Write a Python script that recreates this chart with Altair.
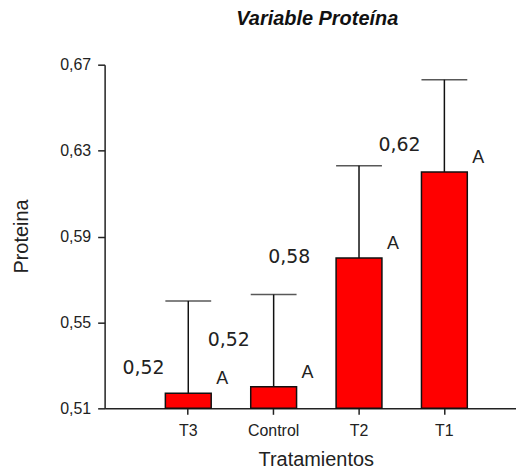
import altair as alt
import pandas as pd

treatments = ["T3", "Control", "T2", "T1"]
means = [0.517, 0.520, 0.580, 0.620]
err_top = [0.560, 0.563, 0.623, 0.663]
label_pos = [0.529, 0.5416, 0.5805, 0.6324]
letters = ["A", "A", "A", "A"]
y_ticks = [0.51, 0.55, 0.59, 0.63, 0.67]

df = pd.DataFrame({
    "trat": treatments,
    "mean": means,
    "err": err_top,
    "lpos": label_pos,
    "letter": letters,
})

fmt = "replace(format(datum.value, '.2f'), '.', ',')"

x_enc = alt.X(
    "trat:N",
    sort=treatments,
    scale=alt.Scale(paddingInner=0.463, paddingOuter=0.641, align=0.555),
    axis=alt.Axis(
        title="Tratamientos", labelAngle=0, labelFont="Liberation Sans",
        labelFontSize=16, labelColor="#222", labelPadding=8,
        tickSize=6, tickColor="#222", tickWidth=1.5,
        domainColor="#222", domainWidth=1.5,
        titleFont="Liberation Sans", titleFontSize=20, titleFontWeight="normal",
        titleColor="#222", titleX=212, titleY=51, titleBaseline="middle",
        titleAlign="center",
    ),
)

y_scale = alt.Scale(domain=[0.51, 0.67], nice=False, zero=False)

bars = alt.Chart(df).mark_bar(color="#FF0000", stroke="#111", strokeWidth=1.5).encode(
    x=x_enc,
    y=alt.Y(
        "mean:Q", scale=y_scale,
        axis=alt.Axis(
            values=y_ticks, labelExpr=fmt, grid=False, title="Proteina",
            labelFont="Liberation Sans", labelFontSize=16, labelColor="#222",
            labelPadding=7, tickSize=7, tickColor="#222", tickWidth=1.5,
            domainColor="#222", domainWidth=1.5,
            titleFont="Liberation Sans", titleFontSize=20, titleFontWeight="normal",
            titleColor="#222", titleX=-83, titleY=172, titleBaseline="middle",
            titleAlign="center", titleAngle=270,
        ),
    ),
    y2=alt.datum(0.51),
)

rules = alt.Chart(df).mark_rule(color="#111", strokeWidth=1.5).encode(
    x=alt.X("trat:N", sort=treatments),
    y=alt.Y("mean:Q", scale=y_scale),
    y2="err:Q",
)

caps = alt.Chart(df).mark_tick(color="#111", thickness=1.5, size=46, orient="horizontal").encode(
    x=alt.X("trat:N", sort=treatments),
    y=alt.Y("err:Q", scale=y_scale),
)

lbl_common = dict(font="DejaVu Sans", fontSize=19, color="#222", baseline="middle", align="center")

labels_main = alt.Chart(df).transform_filter(alt.datum.trat != "T2").transform_calculate(
    txt="replace(format(datum.mean, '.2f'), '.', ',')"
).mark_text(dx=-45, **lbl_common).encode(
    x=alt.X("trat:N", sort=treatments),
    y=alt.Y("lpos:Q", scale=y_scale),
    text="txt:N",
)

labels_t2 = alt.Chart(df).transform_filter(alt.datum.trat == "T2").transform_calculate(
    txt="replace(format(datum.mean, '.2f'), '.', ',')"
).mark_text(dx=-70, **lbl_common).encode(
    x=alt.X("trat:N", sort=treatments),
    y=alt.Y("lpos:Q", scale=y_scale),
    text="txt:N",
)

letters_layer = alt.Chart(df).mark_text(
    dx=34, dy=-14, font="Liberation Sans", fontSize=18, color="#222",
    baseline="middle", align="center",
).encode(
    x=alt.X("trat:N", sort=treatments),
    y=alt.Y("mean:Q", scale=y_scale),
    text="letter:N",
)

chart = alt.layer(bars, rules, caps, labels_main, labels_t2, letters_layer).properties(
    width=413,
    height=345,
    autosize=alt.AutoSizeParams(type="none"),
    padding={"left": 97, "top": 56, "right": 0, "bottom": 63},
    title=alt.TitleParams(
        "Variable Proteína", font="Liberation Sans", fontSize=20,
        fontWeight="bold", fontStyle="italic", color="#111",
        anchor="middle", dx=7, offset=28,
    ),
).configure_view(stroke=None)

chart.save("out.html", embed_options={"renderer": "svg", "actions": False})
